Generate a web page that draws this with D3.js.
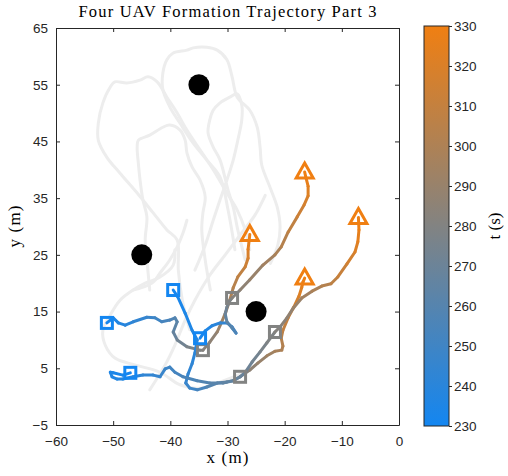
<!DOCTYPE html>
<html>
<head>
<meta charset="utf-8">
<script src="https://cdn.jsdelivr.net/npm/d3@7"></script>
<style>
body { margin: 0; background: #fff; }
.axis path, .axis line { stroke: #262626; }
.axis text { font-family: "Liberation Sans", Arial, sans-serif; font-size: 13.5px; fill: #262626; }
</style>
</head>
<body>
<svg id="chart" width="508" height="476"></svg>
<script>
// axis ticks
var xTicks = [-60, -50, -40, -30, -20, -10, 0];
var yTicks = [-5, 5, 15, 25, 35, 45, 55, 65];
var cTicks = [230, 240, 250, 260, 270, 280, 290, 300, 310, 320, 330];

// obstacles
var obstacles = [[-35, 55], [-45, 25], [-25, 15]];

// earlier parts of the flight (light gray)
var past1 = [[-36.6, 11.8], [-37.9, 17.0], [-38.6, 22.3], [-38.8, 27.6], [-40.6, 29.4], [-43.0, 32.4], [-45.8, 35.9], [-48.8, 39.4], [-51.1, 42.2], [-52.6, 45.2], [-52.6, 48.2], [-51.8, 51.8], [-50.5, 54.6], [-49.7, 55.5], [-47.6, 55.3], [-45.3, 55.8], [-43.9, 56.4], [-42.3, 55.5], [-40.6, 52.8], [-38.8, 50.0], [-37.1, 47.0], [-34.8, 43.5], [-32.5, 40.0], [-30.1, 35.9], [-28.3, 32.9], [-26.9, 29.4], [-26.1, 25.9]];
var past2 = [[-28.7, 25.9], [-29.9, 32.9], [-31.3, 38.7], [-33.6, 41.7], [-36.0, 44.7], [-38.3, 48.2], [-40.1, 51.1], [-41.3, 54.1], [-41.3, 57.1], [-40.6, 59.4], [-39.5, 60.6], [-37.1, 61.1], [-36.0, 61.5], [-33.6, 61.6], [-31.8, 61.1], [-30.1, 59.4], [-29.2, 56.4], [-28.3, 52.8], [-26.1, 50.5], [-24.8, 47.5], [-24.3, 44.0], [-24.0, 40.8], [-22.6, 37.0], [-21.3, 33.4], [-20.8, 29.9], [-21.2, 26.7], [-22.5, 23.5]];
var past3 = [[-43.6, 18.8], [-44.1, 24.1], [-44.4, 27.6], [-44.1, 31.7], [-44.8, 34.7], [-45.3, 38.2], [-45.6, 41.2], [-45.8, 44.0], [-45.6, 45.2], [-43.6, 46.1], [-41.3, 47.5], [-40.1, 47.9], [-38.3, 47.0], [-37.4, 45.2], [-37.1, 43.0], [-36.2, 40.5], [-34.8, 38.2], [-33.9, 35.2], [-34.3, 32.4], [-34.5, 29.4], [-33.9, 24.1], [-33.0, 18.8]];
var past4 = [[-26.9, 24.1], [-28.2, 29.4], [-29.0, 33.4], [-29.9, 36.4], [-31.3, 41.7], [-32.5, 44.0], [-33.4, 46.5], [-33.1, 48.8], [-32.5, 50.5], [-31.3, 51.8], [-29.6, 52.8], [-28.3, 53.4], [-27.5, 51.4], [-27.5, 48.8], [-28.2, 45.2], [-29.0, 41.7], [-30.1, 38.2], [-31.3, 34.7], [-32.5, 31.1], [-33.9, 26.7], [-35.7, 22.3]];
var past5 = [[-39.2, 25.9], [-39.5, 23.2], [-41.8, 21.1], [-44.4, 20.0], [-46.5, 18.8], [-48.8, 17.0], [-50.5, 14.4], [-51.8, 11.7], [-51.4, 9.1], [-49.7, 6.8], [-46.2, 5.6], [-41.8, 4.3], [-38.3, 2.1], [-34.8, 1.5], [-30.4, 2.9], [-26.9, 4.3]];
var past6 = [[-43.6, 1.2], [-40.9, 5.6], [-39.2, 9.1], [-37.4, 13.5], [-35.7, 17.0], [-33.1, 21.4], [-30.4, 25.0], [-27.8, 28.5], [-25.2, 32.0], [-23.4, 35.5]];
var past7 = [[-46.5, 18.8], [-44.8, 19.3], [-43.0, 20.2], [-41.8, 21.8], [-40.1, 24.1], [-38.8, 26.4], [-37.8, 28.8], [-37.1, 31.1]];
var pastPaths = [past1, past2, past3, past4, past5, past6, past7];

// part 3 trajectories: [x, y, t]
var uavA = [[-51.1, 13.0, 230], [-50.0, 13.9, 233], [-49.1, 13.0, 236], [-47.9, 12.6, 239], [-46.5, 13.2, 242], [-44.1, 14.0, 246], [-42.7, 13.9, 249], [-41.5, 13.2, 252], [-40.1, 13.5, 255], [-39.2, 13.9, 258], [-38.8, 13.2, 261], [-39.5, 11.4, 265], [-38.8, 10.0, 270], [-37.1, 8.8, 275], [-34.8, 8.2, 279], [-34.3, 8.2, 280],
  [-33.1, 9.6, 284], [-31.8, 11.4, 288], [-31.0, 13.2, 292], [-30.3, 14.9, 295], [-29.6, 17.0, 298], [-29.0, 19.2, 302], [-28.2, 21.1, 306], [-26.9, 22.9, 311], [-26.4, 24.4, 316], [-26.4, 26.0, 321], [-26.2, 27.6, 326], [-26.1, 28.6, 330]];
var uavB = [[-39.5, 18.8, 230], [-38.7, 17.6, 232], [-37.4, 14.7, 234], [-36.2, 11.7, 236], [-35.3, 10.0, 238], [-35.7, 7.7, 240], [-36.2, 5.8, 242], [-36.9, 4.0, 244], [-37.3, 2.4, 246], [-36.6, 1.5, 248], [-35.3, 1.2, 251], [-33.6, 1.7, 256], [-31.8, 2.4, 263], [-30.1, 2.6, 270], [-29.0, 2.8, 275], [-27.8, 3.5, 280],
  [-26.1, 4.7, 284], [-24.7, 5.9, 288], [-23.1, 7.2, 292], [-21.7, 8.0, 296], [-20.5, 8.2, 299], [-20.3, 8.9, 301], [-20.6, 10.3, 304], [-20.3, 11.7, 307], [-19.4, 13.9, 311], [-18.4, 15.8, 315], [-17.5, 17.7, 319], [-17.0, 19.3, 323], [-16.8, 20.2, 327], [-16.5, 20.9, 330]];
var uavC = [[-34.8, 10.3, 230], [-33.9, 11.6, 234], [-32.7, 12.5, 238], [-31.3, 13.0, 242], [-30.1, 13.0, 246], [-29.2, 12.3, 250], [-28.5, 11.2, 254], [-29.2, 12.1, 258], [-30.1, 13.2, 263], [-30.4, 14.6, 268], [-30.1, 15.8, 273], [-29.6, 16.9, 277], [-29.2, 17.4, 280],
  [-27.8, 18.8, 284], [-26.1, 20.6, 288], [-23.8, 23.2, 293], [-21.7, 25.0, 297], [-20.6, 26.4, 301], [-19.4, 29.0, 306], [-17.8, 31.7, 311], [-16.6, 33.8, 316], [-15.9, 35.4, 320], [-15.9, 37.1, 324], [-16.3, 38.7, 328], [-16.5, 39.6, 330]];
var uavD = [[-47.0, 4.2, 230], [-48.3, 3.8, 232], [-50.0, 4.2, 234], [-50.5, 4.3, 235], [-50.2, 3.5, 236], [-49.3, 3.1, 237], [-48.3, 3.1, 238], [-46.5, 3.5, 240], [-44.8, 3.8, 242], [-43.0, 3.8, 244], [-41.8, 3.5, 246], [-40.9, 4.9, 248], [-40.1, 5.2, 250], [-39.2, 4.3, 252], [-37.8, 3.5, 254], [-35.3, 2.8, 257], [-33.1, 2.4, 260], [-30.8, 2.4, 263], [-29.0, 2.8, 266], [-27.8, 3.5, 268], [-26.9, 4.3, 270], [-25.7, 6.1, 272], [-24.3, 7.9, 275], [-23.1, 9.5, 278], [-21.7, 11.4, 280],
  [-20.8, 12.3, 283], [-19.6, 13.9, 286], [-18.5, 15.6, 289], [-17.0, 17.4, 293], [-15.2, 18.6, 297], [-13.5, 19.5, 301], [-11.9, 19.9, 305], [-10.7, 21.1, 309], [-9.1, 23.4, 314], [-7.7, 25.5, 319], [-7.2, 27.3, 323], [-7.0, 29.4, 327], [-7.1, 31.6, 330]];
var uavs = [uavA, uavB, uavC, uavD];

// markers: time at which a square is drawn on each path
var squareTimes = [230, 280];

var svg = d3.select("#chart");
var margin = {top: 28, left: 56};
var width = 343;
var height = 397;
var g = svg.append("g").attr("transform", "translate(" + margin.left + "," + margin.top + ")");

var x = d3.scaleLinear().domain([-60, 0]).range([0, width]);
var y = d3.scaleLinear().domain([-5, 65]).range([height, 0]);
var col = d3.scaleLinear().domain([230, 330]).range(["#1386f1", "#f07f12"]);

var line = d3.line()
  .x(function(d) { return x(d[0]); })
  .y(function(d) { return y(d[1]); })
  .curve(d3.curveCatmullRom);

// old trajectories
g.append("g").selectAll("path")
  .data(pastPaths)
  .enter().append("path")
  .attr("d", line)
  .attr("fill", "none")
  .attr("stroke", "#ededed")
  .attr("stroke-width", 3)
  .attr("stroke-linejoin", "round")
  .attr("stroke-linecap", "round");

// obstacles
g.append("g").selectAll("circle")
  .data(obstacles)
  .enter().append("circle")
  .attr("cx", function(d) { return x(d[0]); })
  .attr("cy", function(d) { return y(d[1]); })
  .attr("r", 10.5)
  .attr("fill", "#000");

// colored trajectories, one segment per pair of points
var segs = [];
uavs.forEach(function(p) {
  for (var i = 1; i < p.length; i++) segs.push([p[i - 1], p[i]]);
});
g.append("g").selectAll("line")
  .data(segs)
  .enter().append("line")
  .attr("x1", function(d) { return x(d[0][0]); })
  .attr("y1", function(d) { return y(d[0][1]); })
  .attr("x2", function(d) { return x(d[1][0]); })
  .attr("y2", function(d) { return y(d[1][1]); })
  .attr("stroke", function(d) { return col((d[0][2] + d[1][2]) / 2); })
  .attr("stroke-width", 3)
  .attr("stroke-linecap", "round");

// square markers
var squares = [];
uavs.forEach(function(p) {
  p.forEach(function(d) { if (squareTimes.indexOf(d[2]) >= 0) squares.push(d); });
});
g.append("g").selectAll("rect")
  .data(squares)
  .enter().append("rect")
  .attr("x", function(d) { return x(d[0]) - 5.5; })
  .attr("y", function(d) { return y(d[1]) - 5.5; })
  .attr("width", 11)
  .attr("height", 11)
  .attr("fill", "none")
  .attr("stroke", function(d) { return col(d[2]); })
  .attr("stroke-width", 3);

// triangle markers at the end
var ends = uavs.map(function(p) { return p[p.length - 1]; });
g.append("g").selectAll("path")
  .data(ends)
  .enter().append("path")
  .attr("d", function(d) {
    var cx = x(d[0]), cy = y(d[1]);
    return "M" + cx + "," + (cy - 9) + "L" + (cx + 8.5) + "," + (cy + 6) + "L" + (cx - 8.5) + "," + (cy + 6) + "Z";
  })
  .attr("fill", "none")
  .attr("stroke", function(d) { return col(d[2]); })
  .attr("stroke-width", 3)
  .attr("stroke-linejoin", "miter");

// axes with box
g.append("g").attr("class", "axis")
  .attr("transform", "translate(0," + height + ")")
  .call(d3.axisBottom(x).tickValues(xTicks).tickSizeInner(-4).tickSizeOuter(0).tickPadding(11));
g.append("g").attr("class", "axis")
  .call(d3.axisTop(x).tickValues(xTicks).tickSizeInner(-4).tickSizeOuter(0).tickFormat(""));
g.append("g").attr("class", "axis")
  .call(d3.axisLeft(y).tickValues(yTicks).tickSizeInner(-4).tickSizeOuter(0).tickPadding(8));
g.append("g").attr("class", "axis")
  .attr("transform", "translate(" + width + ",0)")
  .call(d3.axisRight(y).tickValues(yTicks).tickSizeInner(-4).tickSizeOuter(0).tickFormat(""));

// labels
svg.append("text")
  .attr("x", margin.left + width / 2)
  .attr("y", 17)
  .attr("text-anchor", "middle")
  .attr("font-family", "Liberation Serif, serif")
  .attr("font-size", 16.5)
  .attr("textLength", 298)
  .attr("lengthAdjust", "spacing")
  .attr("fill", "#000")
  .text("Four UAV Formation Trajectory Part 3");

svg.append("text")
  .attr("x", margin.left + width / 2)
  .attr("y", 463)
  .attr("text-anchor", "middle")
  .attr("font-family", "Liberation Serif, serif")
  .attr("font-size", 17)
  .attr("textLength", 42)
  .attr("lengthAdjust", "spacing")
  .attr("fill", "#000")
  .text("x (m)");

svg.append("text")
  .attr("transform", "translate(20," + (margin.top + height / 2) + ") rotate(-90)")
  .attr("text-anchor", "middle")
  .attr("font-family", "Liberation Serif, serif")
  .attr("font-size", 17)
  .attr("textLength", 42)
  .attr("lengthAdjust", "spacing")
  .attr("fill", "#000")
  .text("y (m)");

// colorbar
var cbX = 424, cbW = 25, cbTop = 26, cbH = 400;
var cy = d3.scaleLinear().domain([230, 330]).range([cbTop + cbH, cbTop]);
var grad = svg.append("defs").append("linearGradient")
  .attr("id", "cgrad")
  .attr("x1", 0).attr("y1", 1).attr("x2", 0).attr("y2", 0);
grad.append("stop").attr("offset", "0%").attr("stop-color", col(230));
grad.append("stop").attr("offset", "50%").attr("stop-color", col(280));
grad.append("stop").attr("offset", "100%").attr("stop-color", col(330));
svg.append("rect")
  .attr("x", cbX).attr("y", cbTop)
  .attr("width", cbW).attr("height", cbH)
  .attr("fill", "url(#cgrad)")
  .attr("stroke", "#262626")
  .attr("stroke-width", 1);
svg.append("g").attr("class", "axis")
  .attr("transform", "translate(" + (cbX + cbW) + ",0)")
  .call(d3.axisRight(cy).tickValues(cTicks).tickSizeInner(3).tickSizeOuter(0).tickPadding(2))
  .select(".domain").remove();

svg.append("text")
  .attr("transform", "translate(500," + (cbTop + cbH / 2) + ") rotate(-90)")
  .attr("text-anchor", "middle")
  .attr("font-family", "Liberation Serif, serif")
  .attr("font-size", 17)
  .attr("fill", "#000")
  .text("t (s)");
</script>
</body>
</html>
